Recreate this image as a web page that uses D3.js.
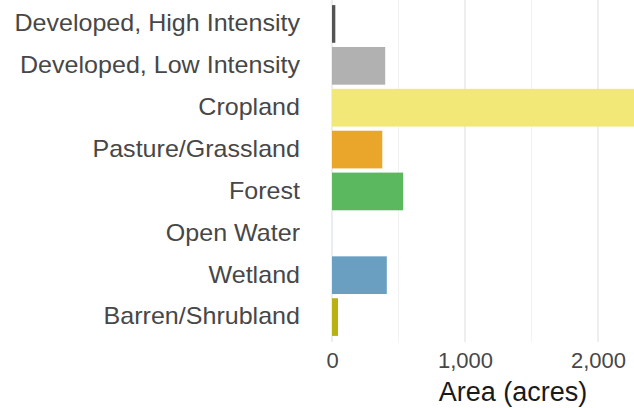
<!DOCTYPE html>
<html>
<head>
<meta charset="utf-8">
<script src="https://cdn.jsdelivr.net/npm/d3@7"></script>
<style>
  html, body { margin: 0; padding: 0; background: #ffffff; }
  svg { display: block; font-family: "Liberation Sans", Arial, Helvetica, sans-serif; }
</style>
</head>
<body>
<svg id="chart" width="634" height="408"></svg>
<script>
const categories = ["Developed, High Intensity", "Developed, Low Intensity", "Cropland", "Pasture/Grassland", "Forest", "Open Water", "Wetland", "Barren/Shrubland"];
const areas = [25, 400, 2450, 378, 535, 2, 412, 45];
const colors = ["#545454", "#b1b1b1", "#f1e878", "#e9a62a", "#5cb85f", "#d8e8f4", "#6a9fc1", "#b9b112"];
const majorTicks = [0, 1000, 2000];
const minorTicks = [500, 1500];
const xTitle = "Area (acres)";

const W = 634, H = 408;
const svg = d3.select("#chart");

const x = d3.scaleLinear().domain([0, 2000]).range([332, 598]);
const y = d3.scaleBand().domain(categories).range([3, 338]).paddingInner(0.1).paddingOuter(0.05);

svg.append("defs").append("clipPath").attr("id", "panel")
  .append("rect").attr("x", 0).attr("y", 0).attr("width", W).attr("height", 345);

const grid = svg.append("g");
grid.selectAll("line.minor").data(minorTicks).join("line")
  .attr("x1", d => x(d)).attr("x2", d => x(d))
  .attr("y1", 0).attr("y2", 342)
  .attr("stroke", "#f2f2f2").attr("stroke-width", 1);
grid.selectAll("line.major").data(majorTicks).join("line")
  .attr("x1", d => x(d)).attr("x2", d => x(d))
  .attr("y1", 0).attr("y2", 342)
  .attr("stroke", "#e3e3e3").attr("stroke-width", 1.2);

svg.append("g").attr("clip-path", "url(#panel)")
  .selectAll("rect").data(categories).join("rect")
  .attr("x", x(0))
  .attr("y", d => y(d))
  .attr("width", (d, i) => x(areas[i]) - x(0))
  .attr("height", y.bandwidth())
  .attr("fill", (d, i) => colors[i]);

const yAxis = svg.append("g").attr("transform", "translate(300,0)")
  .call(d3.axisLeft(y).tickSize(0).tickPadding(0));
yAxis.select(".domain").remove();
yAxis.selectAll("text").attr("font-size", 23).attr("fill", "#474747")
  .attr("font-family", "'Liberation Sans', Arial, sans-serif")
  .attr("transform", "scale(1.09,1)");

const xAxis = svg.append("g").attr("transform", "translate(0,350)")
  .call(d3.axisBottom(x).tickValues(majorTicks).tickFormat(d3.format(",")).tickSize(0).tickPadding(0));
xAxis.select(".domain").remove();
xAxis.selectAll("text").attr("font-size", 22).attr("fill", "#474747").attr("dy", "0.82em")
  .attr("font-family", "'Liberation Sans', Arial, sans-serif");

svg.append("text")
  .attr("x", 513).attr("y", 401)
  .attr("text-anchor", "middle")
  .attr("font-size", 27)
  .attr("fill", "#1a1a1a")
  .text(xTitle);
</script>
</body>
</html>
